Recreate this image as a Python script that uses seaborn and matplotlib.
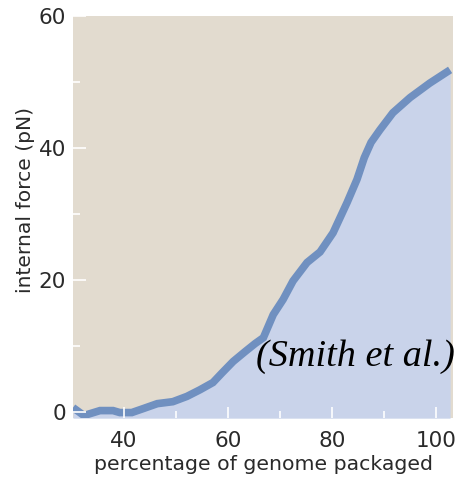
import numpy as np
import pandas as pd
import matplotlib
matplotlib.use("Agg")
import matplotlib.pyplot as plt
import seaborn as sns
from matplotlib.ticker import MultipleLocator

# values
genome_pct = [30.2, 32.3, 35.4, 37.9, 39.2, 41.5, 43.7, 46.4, 49.4, 52.1, 54.6,
              57.1, 58.9, 61.0, 63.3, 65.2, 66.8, 68.7, 70.6, 72.5, 75.2, 77.7,
              80.2, 82.9, 84.8, 86.2, 87.5, 89.2, 91.7, 95.0, 98.8, 102.7]
force_pn = [0.6, -0.6, 0.15, 0.15, -0.15, -0.15, 0.45, 1.2, 1.5, 2.3, 3.3,
            4.4, 5.9, 7.6, 9.1, 10.3, 11.2, 14.7, 17.0, 19.8, 22.6, 24.2,
            27.1, 31.7, 35.2, 38.5, 40.8, 42.7, 45.3, 47.6, 49.8, 51.8]
x_ticks = [40, 60, 80, 100]
y_ticks = [0, 20, 40, 60]

df = pd.DataFrame({"pct": genome_pct, "force": force_pn})

sns.set_style("white")
plt.rcParams['font.family'] = ['DejaVu Sans']

fig = plt.figure(figsize=(4.62, 4.79), dpi=100)
ax = fig.add_axes([0.158, 0.127, 0.823, 0.84])
ax.set_facecolor('#e2dbcf')
ax.set_axisbelow(False)

ymin = -1
ax.fill_between(df["pct"], df["force"], ymin, color='#c9d3ea', lw=0)
sns.lineplot(data=df, x="pct", y="force", ax=ax, color='#7090c0', lw=5.5,
             solid_capstyle='butt', solid_joinstyle='miter')

ax.set_xlim(30.2, 103.3)
ax.set_ylim(ymin, 60)
ax.set_xticks(x_ticks)
ax.set_yticks(y_ticks)
ax.xaxis.set_minor_locator(MultipleLocator(10))
ax.yaxis.set_minor_locator(MultipleLocator(10))
ax.tick_params(which='both', direction='in', color='white', width=1.2,
               bottom=True, left=True, labelsize=15.5, labelcolor='#2a2a2a')
ax.tick_params(axis='x', which='major', length=8, pad=9)
ax.tick_params(axis='x', which='minor', length=5)
ax.tick_params(axis='y', which='major', length=9, pad=5)
ax.tick_params(axis='y', which='minor', length=5)
for s in ax.spines.values():
    s.set_visible(False)

ax.set_xlabel("percentage of genome packaged", fontsize=14.7, color='#2a2a2a', labelpad=3)
ax.set_ylabel("internal force (pN)", fontsize=14.6, color='#2a2a2a')
ax.yaxis.set_label_coords(-0.1, 0.542)

ax.text(65.4, 8.3, "(Smith et al.)", family='Liberation Serif', style='italic',
        fontsize=27.5, color='black', va='center', ha='left')

fig.savefig("out.png", dpi=100)
